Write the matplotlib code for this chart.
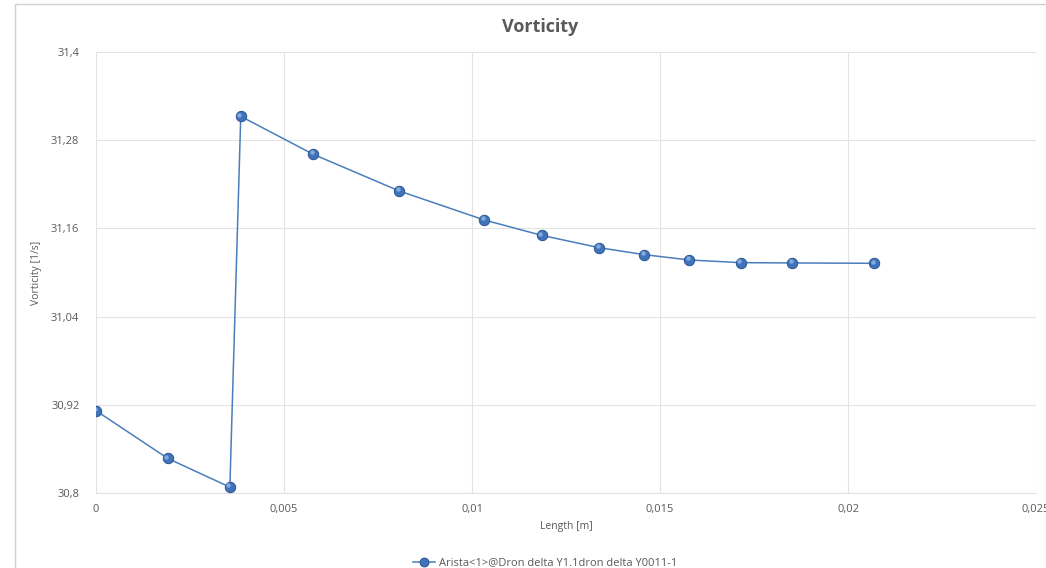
import matplotlib
matplotlib.use("Agg")
import matplotlib.pyplot as plt
from matplotlib.ticker import FuncFormatter
from matplotlib.patches import Rectangle
import matplotlib.transforms as mtransforms

plt.rcParams['font.family'] = ['Open Sans', 'DejaVu Sans']

# Vorticity sampled along the edge
length_m = [0.0, 0.00191, 0.00356, 0.00385, 0.00577, 0.00806, 0.01033,
            0.01185, 0.01338, 0.01458, 0.01578, 0.01715, 0.01852, 0.0207]
vorticity = [30.912, 30.847, 30.808, 31.3125, 31.261, 31.211, 31.1714,
             31.1506, 31.1338, 31.1243, 31.117, 31.1134, 31.113, 31.1125]

series_label = "Arista<1>@Dron delta Y1.1dron delta Y0011-1"
x_ticks = [0, 0.005, 0.01, 0.015, 0.02, 0.025]
y_ticks = [30.8, 30.92, 31.04, 31.16, 31.28, 31.4]

text_gray = '#595959'
grid_gray = '#e4e4e4'
line_blue = '#4a7ebb'
marker_blue = '#3f74bd'

fig = plt.figure(figsize=(10.46, 5.68), dpi=100)
fig.patch.set_facecolor('white')

# chart area frame
fig.patches.append(Rectangle((15 / 1046, -0.01), 1.0, 1 - 4 / 568 + 0.01,
                             transform=fig.transFigure, fill=False,
                             edgecolor='#d0d0d0', linewidth=1.0))

ax = fig.add_axes([96 / 1046, 1 - 493 / 568, (1036 - 96) / 1046, (493 - 52) / 568])
ax.set_xlim(0, 0.025)
ax.set_ylim(30.8, 31.4)
ax.set_xticks(x_ticks)
ax.set_yticks(y_ticks)


def comma_fmt(v, pos):
    s = f"{v:.3f}".rstrip('0').rstrip('.')
    return s.replace('.', ',')


ax.xaxis.set_major_formatter(FuncFormatter(comma_fmt))
ax.yaxis.set_major_formatter(FuncFormatter(comma_fmt))
ax.grid(True, color=grid_gray, linewidth=0.8)
ax.set_axisbelow(True)
for side in ['top', 'right', 'left']:
    ax.spines[side].set_visible(False)
ax.spines['bottom'].set_color(grid_gray)
ax.spines['bottom'].set_linewidth(0.8)
ax.tick_params(axis='both', length=0, colors=text_gray, labelsize=8)
ax.tick_params(axis='x', pad=8)
ax.tick_params(axis='y', pad=12)

line, = ax.plot(length_m, vorticity, color=line_blue, linewidth=1.1,
                marker='o', markersize=7.5, markerfacecolor=marker_blue,
                markeredgecolor='#2b5590', markeredgewidth=0.7,
                label=series_label, zorder=3)
# small highlight on each sphere
hl = mtransforms.offset_copy(ax.transData, fig=fig, x=-1.0, y=1.3, units='points')
ax.plot(length_m, vorticity, linestyle='none', marker='o', markersize=3.2,
        markerfacecolor='#9cbde8', markeredgewidth=0, alpha=0.75,
        transform=hl, zorder=4)

ax.set_xlabel("Length [m]", color=text_gray, fontsize=7.5, labelpad=4)
ax.set_ylabel("Vorticity [1/s]", color=text_gray, fontsize=7.5)
ax.yaxis.set_label_coords(-0.057, 0.5)

fig.text(540 / 1046, 1 - 27 / 568, "Vorticity", ha='center', va='center',
         fontsize=13, fontweight='bold', color=text_gray)

leg = fig.legend(handles=[line], loc='center', bbox_to_anchor=(545 / 1046, 1 - 563 / 568),
                 frameon=False, fontsize=8, handlelength=2.0, handletextpad=0.3,
                 markerscale=0.85)
for t in leg.get_texts():
    t.set_color(text_gray)

fig.savefig("out.png", dpi=100)
